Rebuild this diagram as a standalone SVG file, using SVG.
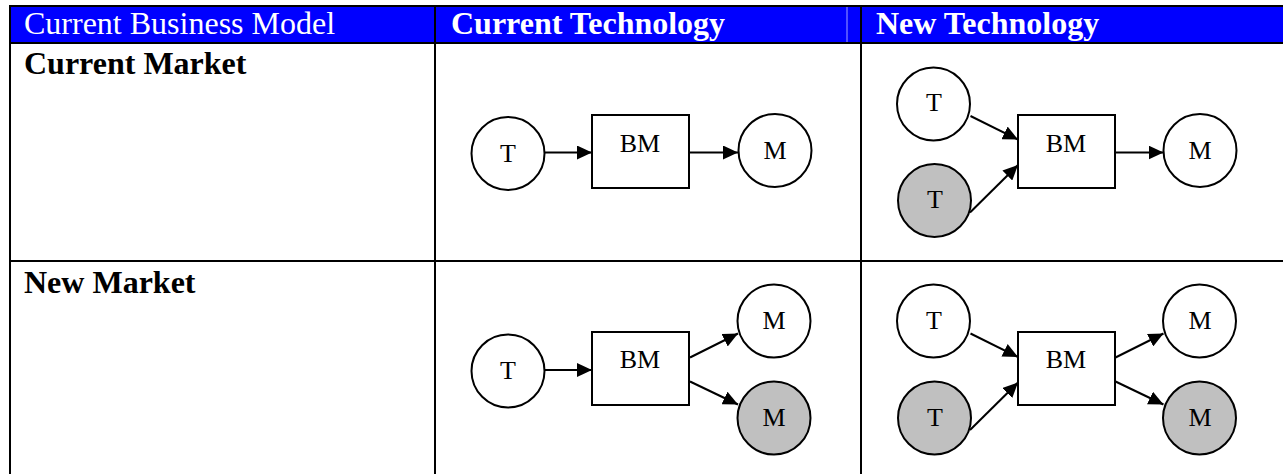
<svg xmlns="http://www.w3.org/2000/svg" width="1283" height="474" viewBox="0 0 1283 474">
  <style>
    .hdr { fill: #0000ff; }
    .grid { stroke: #000; stroke-width: 2; fill: none; }
    .htxt { font-family: "Liberation Serif", "Times New Roman", serif; font-size: 32px; fill: #ffffff; }
    .rtxt { font-family: "Liberation Serif", "Times New Roman", serif; font-size: 32px; font-weight: bold; fill: #000; }
    .node { stroke: #000; stroke-width: 2; fill: #ffffff; }
    .node.alt { fill: #c0c0c0; }
    .lbl { font-family: "Liberation Serif", "Times New Roman", serif; font-size: 26px; fill: #000; text-anchor: middle; }
    .edge { stroke: #000; stroke-width: 2; fill: none; marker-end: url(#arrow); }
  </style>
  <defs>
    <marker id="arrow" viewBox="0 0 15 14" refX="15" refY="7" markerWidth="15" markerHeight="14" markerUnits="userSpaceOnUse" orient="auto">
      <path d="M0,0 L15,7 L0,14 Z" fill="#000"/>
    </marker>
  </defs>

  <rect width="1283" height="474" fill="#ffffff"/>

  <!-- table header band and grid -->
  <g id="table">
    <rect class="hdr" x="10" y="6" width="1273" height="37"/>
    <line x1="847" y1="7" x2="847" y2="42" stroke="#a0a0ff" stroke-width="1"/>
    <line class="grid" x1="9" y1="6" x2="1283" y2="6"/>
    <line class="grid" x1="9" y1="43" x2="1283" y2="43"/>
    <line class="grid" x1="9" y1="261" x2="1283" y2="261"/>
    <line class="grid" x1="10" y1="5" x2="10" y2="474"/>
    <line class="grid" x1="435" y1="5" x2="435" y2="474"/>
    <line class="grid" x1="861" y1="5" x2="861" y2="474"/>
    <text class="htxt" x="24" y="34">Current Business Model</text>
    <text class="htxt" x="451" y="34" font-weight="bold">Current Technology</text>
    <text class="htxt" x="876" y="34" font-weight="bold">New Technology</text>
    <text class="rtxt" x="24" y="74">Current Market</text>
    <text class="rtxt" x="24" y="293">New Market</text>
  </g>

  <!-- current market / current technology -->
  <g id="cm-ct-t"><circle class="node" cx="508" cy="153.5" r="36.5"/><text class="lbl" x="508" y="162">T</text></g>
  <g id="cm-ct-bm"><rect class="node" x="592" y="115" width="97" height="73"/><text class="lbl" x="640" y="152">BM</text></g>
  <g id="cm-ct-m"><circle class="node" cx="775" cy="150.5" r="36.5"/><text class="lbl" x="775" y="159">M</text></g>

  <!-- current market / new technology -->
  <g id="cm-nt-t1"><circle class="node" cx="933.5" cy="104" r="36.5"/><text class="lbl" x="934" y="111">T</text></g>
  <g id="cm-nt-t2"><circle class="node alt" cx="934.5" cy="200.5" r="36.5"/><text class="lbl" x="935" y="208">T</text></g>
  <g id="cm-nt-bm"><rect class="node" x="1018" y="115" width="97" height="73"/><text class="lbl" x="1066" y="152">BM</text></g>
  <g id="cm-nt-m"><circle class="node" cx="1200" cy="150.5" r="36.5"/><text class="lbl" x="1200" y="159">M</text></g>

  <!-- new market / current technology -->
  <g id="nm-ct-t"><circle class="node" cx="508" cy="371" r="36.5"/><text class="lbl" x="508" y="379">T</text></g>
  <g id="nm-ct-bm"><rect class="node" x="592" y="332" width="97" height="73"/><text class="lbl" x="640" y="368">BM</text></g>
  <g id="nm-ct-m1"><circle class="node" cx="774" cy="321" r="36.5"/><text class="lbl" x="774" y="329">M</text></g>
  <g id="nm-ct-m2"><circle class="node alt" cx="774" cy="418" r="36.5"/><text class="lbl" x="774" y="426">M</text></g>

  <!-- new market / new technology -->
  <g id="nm-nt-t1"><circle class="node" cx="933.5" cy="321" r="36.5"/><text class="lbl" x="934" y="329">T</text></g>
  <g id="nm-nt-t2"><circle class="node alt" cx="934.5" cy="418" r="36.5"/><text class="lbl" x="935" y="426">T</text></g>
  <g id="nm-nt-bm"><rect class="node" x="1018" y="332" width="97" height="73"/><text class="lbl" x="1066" y="368">BM</text></g>
  <g id="nm-nt-m1"><circle class="node" cx="1199.5" cy="321" r="36.5"/><text class="lbl" x="1200" y="329">M</text></g>
  <g id="nm-nt-m2"><circle class="node alt" cx="1199.5" cy="418" r="36.5"/><text class="lbl" x="1200" y="426">M</text></g>

  <!-- connectors -->
  <g id="connectors">
    <line class="edge" x1="544.5" y1="152.5" x2="592" y2="152.5"/>
    <line class="edge" x1="690" y1="152.5" x2="738" y2="152.5"/>

    <line class="edge" x1="970.5" y1="116" x2="1018" y2="139.5"/>
    <line class="edge" x1="970" y1="212.5" x2="1018" y2="165"/>
    <line class="edge" x1="1116" y1="152.5" x2="1163.5" y2="152.5"/>

    <line class="edge" x1="544.5" y1="370" x2="592" y2="370"/>
    <line class="edge" x1="690" y1="357.5" x2="738" y2="333.5"/>
    <line class="edge" x1="690" y1="381.5" x2="738" y2="404.5"/>

    <line class="edge" x1="970.5" y1="333.5" x2="1018" y2="357"/>
    <line class="edge" x1="970" y1="430" x2="1018" y2="382.5"/>
    <line class="edge" x1="1115.5" y1="357.5" x2="1163.5" y2="333.5"/>
    <line class="edge" x1="1115.5" y1="381.5" x2="1163.5" y2="404.5"/>
  </g>
</svg>
